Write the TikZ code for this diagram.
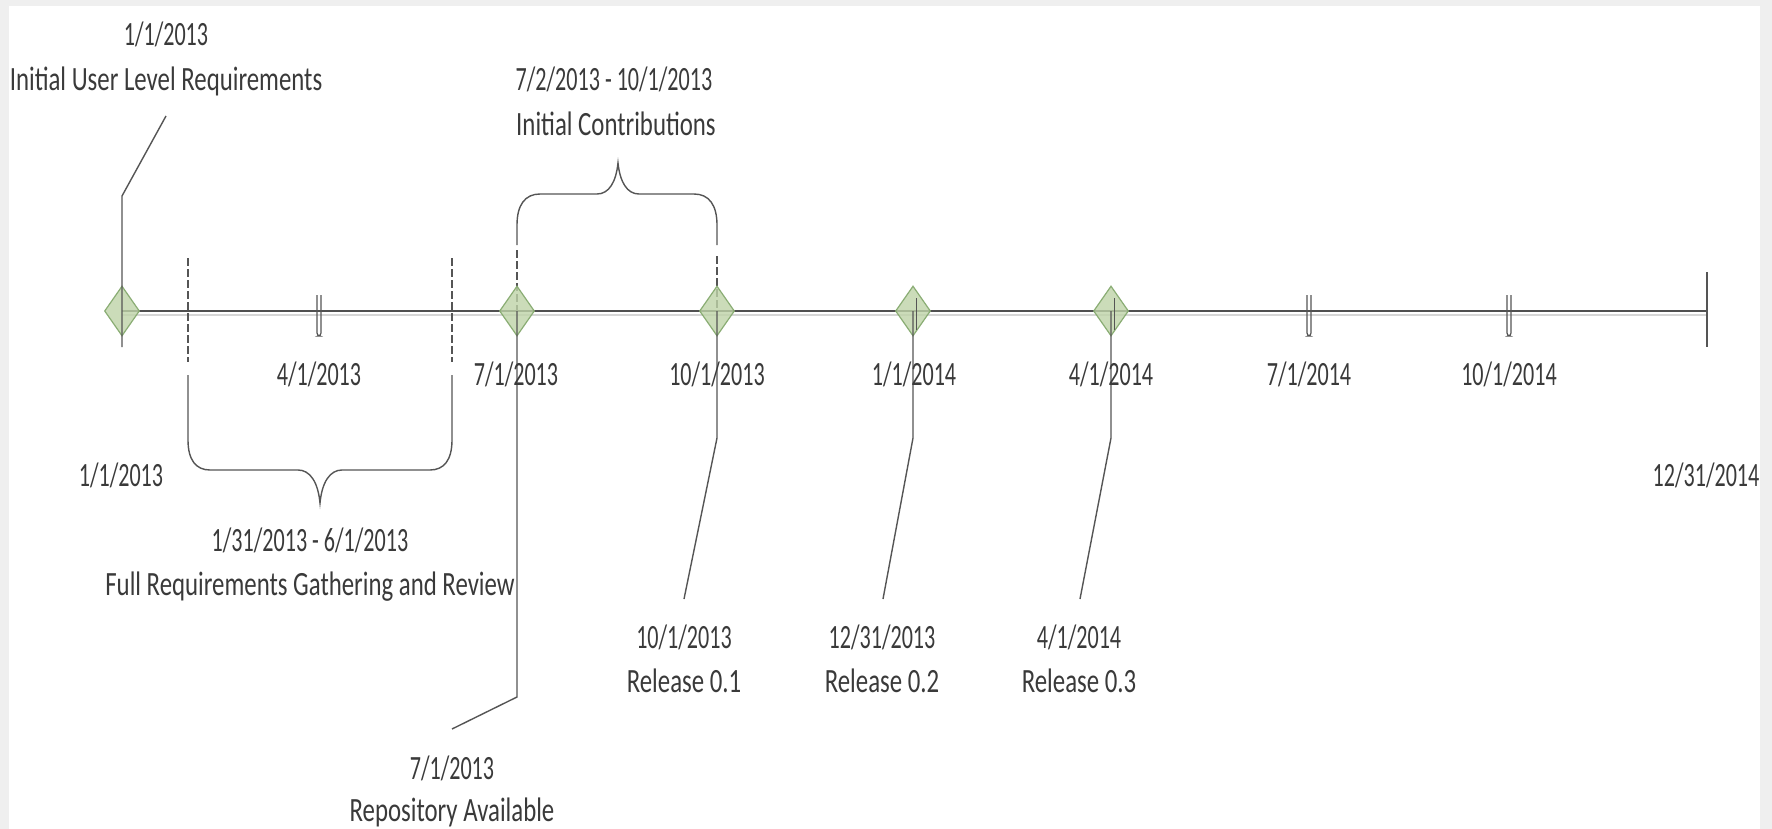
\documentclass[tikz,border=0pt]{standalone}
\usepackage{fontspec}
\setmainfont{Carlito}[FakeStretch=0.73]
\newfontfamily\datefont{Carlito}[FakeStretch=0.65]
\usetikzlibrary{shapes.geometric}
\definecolor{txt}{HTML}{3A3A3A}
\definecolor{lncol}{HTML}{555555}
\definecolor{axcol}{HTML}{505050}
\definecolor{shcol}{HTML}{D6D6D6}
\definecolor{msfill}{HTML}{BFD4A8}
\definecolor{msline}{HTML}{8AAD74}
\definecolor{bordergray}{HTML}{EFEFEF}
\tikzset{
  lbl/.style={font=\fontsize{17pt}{20pt}\selectfont, text=txt, inner sep=0pt, anchor=base},
  dlbl/.style={lbl, font=\fontsize{17pt}{20pt}\datefont},
  ms/.style={diamond, draw=msline, fill=msfill, fill opacity=0.8, minimum width=17.5pt, minimum height=25pt, inner sep=0pt, line width=0.6pt},
  ln/.style={draw=lncol, line width=0.7pt},
  dsh/.style={ln, dash pattern=on 4pt off 1.5pt},
  axisline/.style={draw=axcol, line width=1.1pt},
  shadowline/.style={draw=shcol, line width=1.2pt},
  tickmark/.style={ln, line width=0.6pt, rounded corners=1.5pt}
}
\begin{document}
\begin{tikzpicture}[x=0.5pt,y=-0.5pt]
\useasboundingbox (0,0) rectangle (1772,829);
\fill[bordergray] (0,0) rectangle (1772,829);
\fill[white] (9,6) rectangle (1760,829);

% axis
\coordinate (a0) at (122,311);
\coordinate (a1) at (1707,311);
\draw[shadowline] (122,315) -- (1707,315);
\draw[axisline] (a0) -- (a1);
\coordinate (e0) at (1707,272);
\coordinate (e1) at (1707,347);
\draw[ln] (e0) -- (e1);

% double tick marks
\foreach \x in {319,1309,1509}
  \draw[tickmark] (\x-2,295) -- (\x-2,336) -- (\x+2,336) -- (\x+2,295);

% brace 1 (Full Requirements)
\draw[dsh] (188,258) -- (188,362);
\draw[dsh] (452,258) -- (452,362);
\draw[ln] (188,375) -- (188,440) .. controls (188,460) and (196,470) .. (210,470) -- (298,470)
  .. controls (310,470) and (318,482) .. (320,503)
  .. controls (322,482) and (330,470) .. (342,470) -- (430,470)
  .. controls (444,470) and (452,460) .. (452,440) -- (452,375);

% brace 2 (Initial Contributions)
\draw[dsh] (517,250) -- (517,311);
\draw[dsh] (717,256) -- (717,311);
\draw[ln] (517,245) -- (517,225) .. controls (517,205) and (525,194) .. (540,194) -- (597,194)
  .. controls (609,194) and (616,182) .. (618,163)
  .. controls (620,182) and (627,194) .. (639,194) -- (694,194)
  .. controls (709,194) and (717,205) .. (717,225) -- (717,245);

% milestone nodes
\node[ms] (m1) at (122,311) {};
\node[ms] (m2) at (517,311) {};
\node[ms] (m3) at (717,311) {};
\node[ms] (m4) at (913,311) {};
\node[ms] (m5) at (1111,311) {};

% callout coordinates
\coordinate (k1) at (122,196);  \coordinate (t1) at (166,116);  \coordinate (b1) at (122,347);
\coordinate (k2) at (517,697);  \coordinate (t2) at (452,729);
\coordinate (k3) at (717,438);  \coordinate (t3) at (684,599);
\coordinate (k4) at (913,438);  \coordinate (t4) at (883,599);
\coordinate (k5) at (1111,438); \coordinate (t5) at (1080,599);

\draw[ln] (t1) -- (k1) -- (m1.center) -- (b1);
\draw[ln] (m2.center) -- (k2) -- (t2);
\draw[ln] (m3.center) -- (k3) -- (t3);
\draw[ln] (m4.center) -- (k4) -- (t4);
\draw[ln] (m5.center) -- (k5) -- (t5);
\draw[ln, line width=0.5pt] (916,298) -- (916,330);
\draw[ln, line width=0.5pt] (1114,298) -- (1114,330);

% top labels
\node[dlbl] (l1a) at (166,46) {1/1/2013};
\node[lbl] (l1b) at (166,91) {Initial User Level Requirements};
\node[dlbl] (l2a) at (614,91) {7/2/2013 - 10/1/2013};
\node[lbl] (l2b) at (616,135) {Initial Contributions};

% axis labels
\node[dlbl] (d1) at (319,385) {4/1/2013};
\node[dlbl] (d2) at (516,385) {7/1/2013};
\node[dlbl] (d3) at (717,385) {10/1/2013};
\node[dlbl] (d4) at (914,385) {1/1/2014};
\node[dlbl] (d5) at (1111,385) {4/1/2014};
\node[dlbl] (d6) at (1309,385) {7/1/2014};
\node[dlbl] (d7) at (1509,385) {10/1/2014};
\node[dlbl] (ds) at (121,486) {1/1/2013};
\node[dlbl] (de) at (1706,486) {12/31/2014};

% bottom labels
\node[dlbl] (l3a) at (310,551) {1/31/2013 - 6/1/2013};
\node[lbl] (l3b) at (310,595) {Full Requirements Gathering and Review};
\node[dlbl] (r1a) at (684,648) {10/1/2013};
\node[lbl] (r1b) at (684,692) {Release 0.1};
\node[dlbl] (r2a) at (882,648) {12/31/2013};
\node[lbl] (r2b) at (882,692) {Release 0.2};
\node[dlbl] (r3a) at (1079,648) {4/1/2014};
\node[lbl] (r3b) at (1079,692) {Release 0.3};
\node[dlbl] (rpa) at (452,779) {7/1/2013};
\node[lbl] (rpb) at (452,821) {Repository Available};
\end{tikzpicture}
\end{document}
